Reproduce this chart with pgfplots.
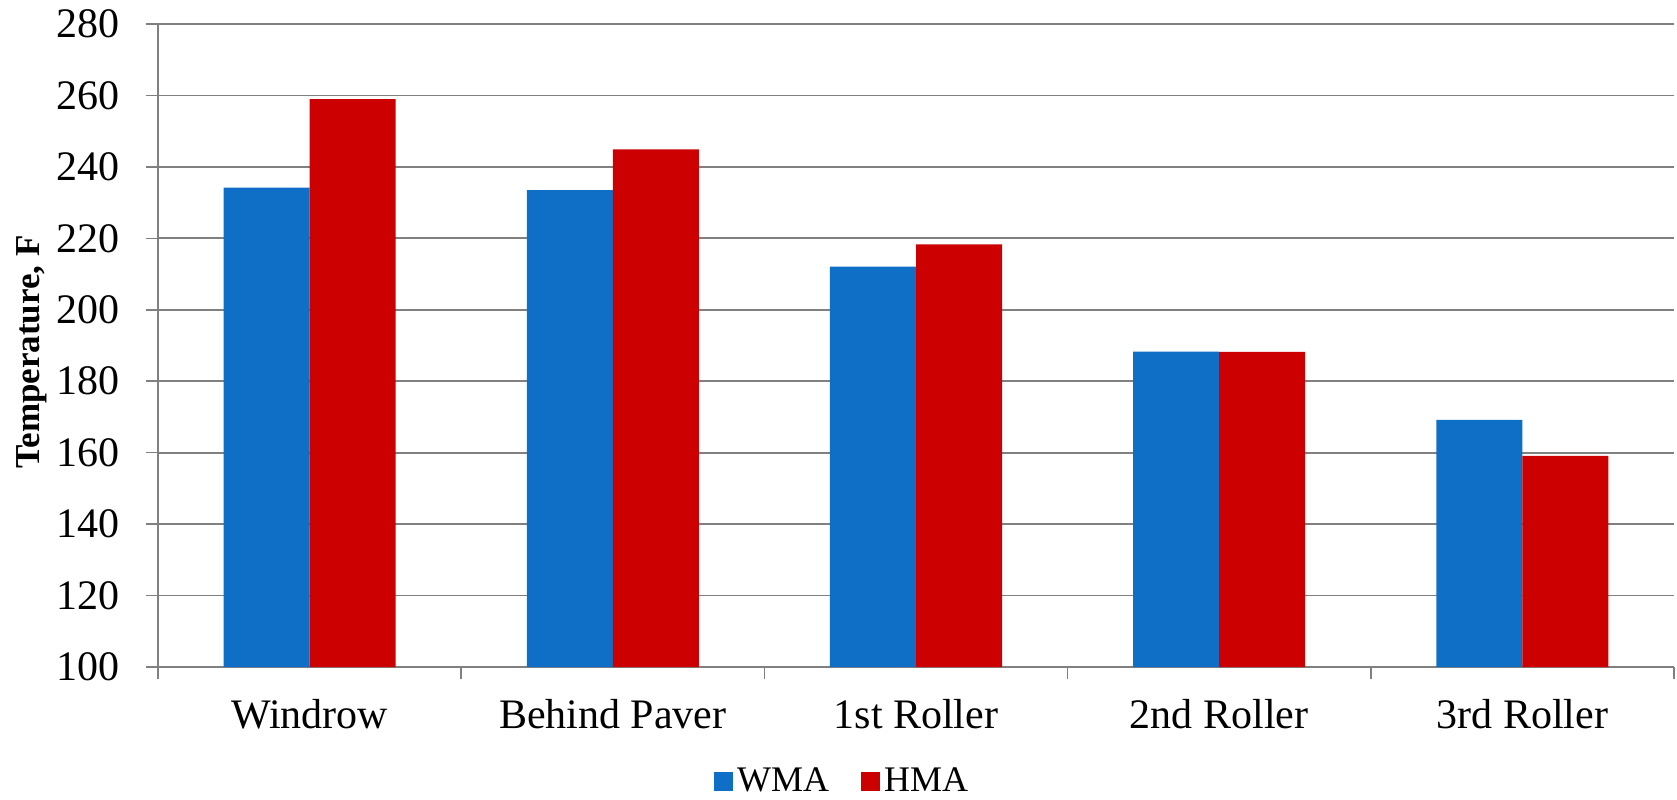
\documentclass[border=0pt]{standalone}
\usepackage{fontspec}
\setmainfont{Liberation Serif}
\usepackage{pgfplots}
\pgfplotsset{compat=1.18}
\definecolor{wma}{RGB}{15,111,198}
\definecolor{hma}{RGB}{204,0,0}
\definecolor{gridgray}{RGB}{128,128,128}
\begin{document}
\begin{tikzpicture}
\path[use as bounding box] (-79pt,-66pt) rectangle (759.5pt,333.5pt);
\begin{axis}[
  scale only axis, width=758pt, height=321.5pt,
  ybar=0pt, bar width=43pt,
  xmin=-0.5, xmax=4.5, ymin=100, ymax=280,
  ytick={100,120,...,280},
  xtick={0,1,2,3,4},
  xticklabels={Windrow,Behind Paver,1st Roller,2nd Roller,3rd Roller},
  major x tick style={draw=none},
  minor xtick={-0.5,0.5,1.5,2.5,3.5,4.5},
  minor x tick style={gridgray, line width=0.75pt},
  major y tick style={gridgray, line width=0.75pt},
  tick align=outside,
  major tick length=6pt, minor tick length=6pt,
  axis lines*=left,
  axis line style={gridgray, line width=0.75pt, -},
  ymajorgrids, grid style={gridgray, line width=0.9pt},
  /pgf/number format/assume math mode=true,
  tick label style={font=\fontsize{21}{25}\selectfont},
  yticklabel style={inner sep=0pt, xshift=-13pt},
  xticklabel style={inner sep=0pt, yshift=-10pt},
  ylabel={Temperature, F},
  every axis y label/.style={at={(rel axis cs:-0.0831,0.49)}, rotate=90, anchor=center, font=\fontsize{17.5}{21}\selectfont\bfseries},
  legend style={at={(rel axis cs:0.452,-0.1775)}, anchor=center, draw=none, fill=none,
    legend columns=2, font=\fontsize{18}{21}\selectfont, inner sep=1pt,
    /tikz/every even column/.append style={column sep=14pt}},
  legend image code/.code={\fill[#1] (0pt,-4.75pt) rectangle (9.5pt,4.75pt);},
]
\addplot[fill=wma, draw=none] coordinates {(0,234.2) (1,233.5) (2,212.1) (3,188.3) (4,169.2)};
\addplot[fill=hma, draw=none] coordinates {(0,259.0) (1,244.9) (2,218.3) (3,188.2) (4,159.1)};
\legend{WMA, HMA}
\end{axis}
\end{tikzpicture}
\end{document}
